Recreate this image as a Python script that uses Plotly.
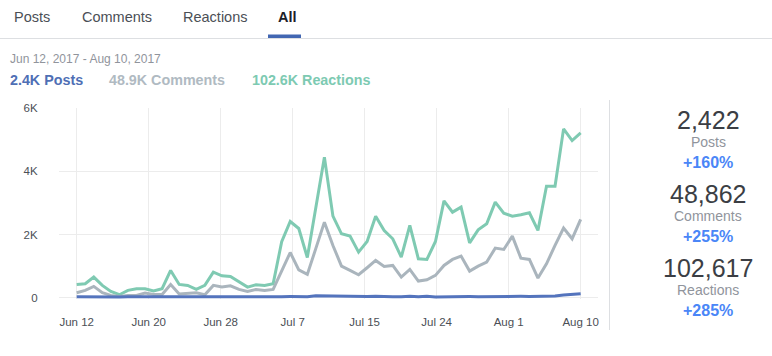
import plotly.graph_objects as go

# ---------------- data ----------------
tick_labels = ["Jun 12", "Jun 20", "Jun 28", "Jul 7", "Jul 15", "Jul 24", "Aug 1", "Aug 10"]
n_days = 60  # Jun 12 .. Aug 10

reactions = [421, 442, 653, 390, 200, 95, 232, 284, 284, 211, 284, 863, 421, 390, 263, 390,
             811, 695, 674, 495, 337, 411, 390, 442,
             1770, 2410, 2190, 1270, 2880, 4444, 2580, 2022, 1948, 1443, 1780, 2580, 2127, 1864,
             1285, 2285, 1232, 1211, 1780, 3064, 2706, 2864, 1737, 2148, 2338, 3022, 2675, 2580,
             2622, 2685, 2127, 3528, 3528, 5339, 4970, 5212]
comments = [158, 232, 358, 158, 74, 42, 74, 74, 147, 105, 105, 421, 116, 147, 158, 95,
            390, 337, 379, 263, 200, 263, 232, 263,
            850, 1430, 880, 737, 1560, 2390, 1653, 1000, 863, 727, 948, 1179, 990, 1021,
            653, 895, 527, 569, 706, 1021, 1211, 1316, 842, 1000, 1127, 1569, 1527, 1948,
            1253, 1211, 621, 1074, 1653, 2201, 1864, 2475]
posts = [35, 30, 33, 28, 26, 24, 30, 26, 28, 30, 26, 32, 28, 35, 33, 28, 35, 30, 30, 28, 32, 30, 28, 32,
         34, 36, 38, 30, 65, 60, 50, 45, 35, 40, 42, 50, 36, 34, 32, 45, 30, 50, 26, 34,
         40, 45, 36, 34, 40, 46, 45, 60, 45, 42, 46, 52, 55, 85, 100, 128]

y_ticks = [0, 2000, 4000, 6000]
y_tick_text = ["0", "2K", "4K", "6K"]

# ---------------- geometry ----------------
W, H = 772, 356
L, R, T, B = 59, 174, 108, 57
PW, PH = W - L - R, H - T - B

def px(x):
    return (x - L) / PW

def py(y):
    return (H - B - y) / PH

x_idx = list(range(n_days))
tick_pos = [i * (n_days - 1) / 7 for i in range(8)]

FONT = "Helvetica, Arial, 'Liberation Sans', sans-serif"

fig = go.Figure()
fig.add_trace(go.Scatter(x=x_idx, y=reactions, mode="lines", name="Reactions",
                         line=dict(color="#7fcab2", width=3)))
fig.add_trace(go.Scatter(x=x_idx, y=comments, mode="lines", name="Comments",
                         line=dict(color="#aab5bd", width=3)))
fig.add_trace(go.Scatter(x=x_idx, y=posts, mode="lines", name="Posts",
                         line=dict(color="#5474bd", width=3)))

ann = []

def text(x, y, s, size, color, bold=False, xanchor="left"):
    ann.append(dict(x=px(x), y=py(y), xref="paper", yref="paper", text=("<b>%s</b>" % s) if bold else s,
                    showarrow=False, xanchor=xanchor, yanchor="middle",
                    font=dict(size=size, color=color, family=FONT)))

# tabs
text(12, 17, "Posts", 14.5, "#4b4f56")
text(80, 17, "Comments", 14.5, "#4b4f56")
text(181, 17, "Reactions", 14.5, "#4b4f56")
text(276, 17, "All", 14.5, "#1d2129", bold=True)

# header
text(8, 59, "Jun 12, 2017 - Aug 10, 2017", 12, "#90949c")
text(8, 80, "2.4K Posts", 14.3, "#4f6fb5", bold=True)
text(107, 80, "48.9K Comments", 14.3, "#b0bac2", bold=True)
text(250, 80, "102.6K Reactions", 14.3, "#7dcab2", bold=True)

# right panel
cx = 708
for (num, label, pct, yn) in [("2,422", "Posts", "+160%", 120),
                               ("48,862", "Comments", "+255%", 194),
                               ("102,617", "Reactions", "+285%", 268)]:
    text(cx, yn, num, 25, "#3b3e44", xanchor="center")
    text(cx, yn + 22, label, 14, "#90949c", xanchor="center")
    text(cx, yn + 42, pct, 16, "#4a86f7", bold=True, xanchor="center")

shapes = [
    dict(type="line", xref="paper", yref="paper", x0=px(0), x1=px(W), y0=py(38.5), y1=py(38.5),
         line=dict(color="#dddfe2", width=1)),
    dict(type="rect", xref="paper", yref="paper", x0=px(268), x1=px(301), y0=py(34.5), y1=py(38),
         line=dict(width=0), fillcolor="#4267b2"),
    dict(type="line", xref="paper", yref="paper", x0=px(609.5), x1=px(609.5), y0=py(100), y1=py(330),
         line=dict(color="#dddfe2", width=1)),
]

fig.update_layout(
    width=W, height=H,
    margin=dict(l=L, r=R, t=T, b=B, pad=0),
    paper_bgcolor="white", plot_bgcolor="white",
    showlegend=False,
    annotations=ann, shapes=shapes,
    font=dict(family=FONT, size=11, color="#4b4f56"),
    xaxis=dict(range=[-2.07, 61.03], tickmode="array", tickvals=tick_pos, ticktext=tick_labels,
               showgrid=True, gridcolor="#ececec", gridwidth=1, zeroline=False, showline=False,
               ticks="outside", ticklen=12, tickcolor="rgba(0,0,0,0)",
               tickfont=dict(size=11.5, color="#4b4f56", family=FONT), fixedrange=True),
    yaxis=dict(range=[-40, 6000], tickmode="array", tickvals=y_ticks, ticktext=y_tick_text,
               showgrid=True, gridcolor="#ececec", gridwidth=1, zeroline=False, showline=False,
               ticks="outside", ticklen=18, tickcolor="rgba(0,0,0,0)",
               tickfont=dict(size=11.5, color="#4b4f56", family=FONT), fixedrange=True),
)

fig.write_html("out.html", config=dict(displayModeBar=False),
               post_script="document.body.style.margin='0';document.body.style.overflow='hidden';")
